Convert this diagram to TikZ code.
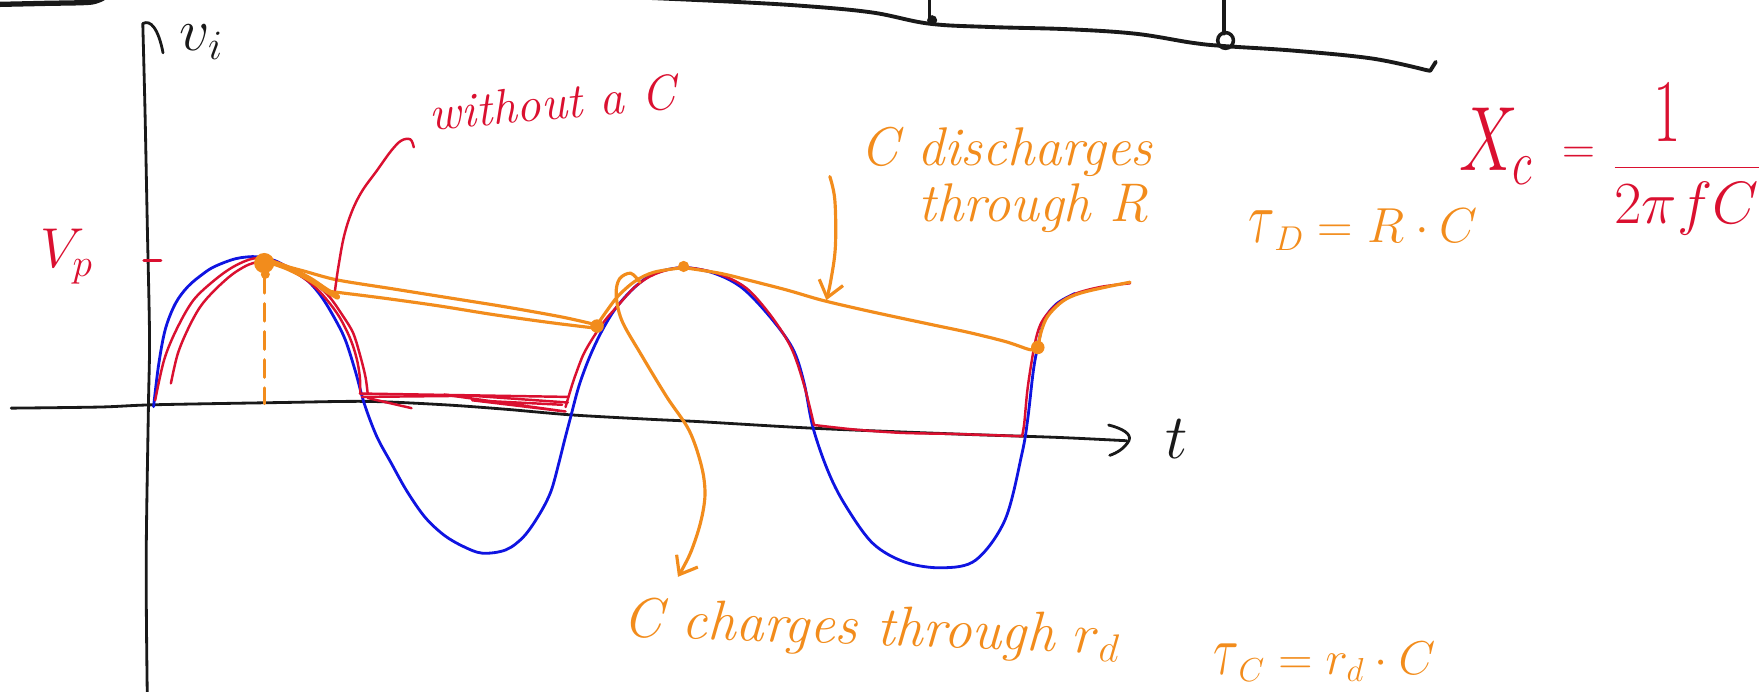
\RequirePackage{fix-cm}
\documentclass[tikz,border=0pt]{standalone}
\usepackage{graphicx}
\usetikzlibrary{arrows.meta}
\definecolor{pblue}{RGB}{15,20,225}
\definecolor{pred}{RGB}{218,16,48}
\definecolor{porange}{RGB}{242,140,28}
\definecolor{inkblack}{RGB}{25,25,25}
\newcommand{\hwsize}[1]{\fontsize{#1}{#1}\selectfont}
\newcommand{\talltau}[1]{\scalebox{1}[#1]{$\tau$}}
\begin{document}
\begin{tikzpicture}[x=0.022488cm,y=-0.022488cm,
  txt/.style={inner sep=0pt,outer sep=0pt,anchor=base west},
  bl/.style={pblue,line width=1.6pt,line cap=round,line join=round},
  rd/.style={pred,line width=1.4pt,line cap=round,line join=round},
  og/.style={porange,line width=1.8pt,line cap=round,line join=round},
  ax/.style={inkblack,line width=1.6pt,line cap=round,line join=round},
  barb/.style={-{Straight Barb[length=9pt,width=14pt,line width=1.8pt]}}]
\useasboundingbox (0,0) rectangle (1568,615);

% ---- top strokes (circuit fragment)
\draw[ax,line width=3pt] plot[smooth] coordinates {(-5,4) (40,3) (80,2) (92,-2)};
\draw[ax,line width=2.2pt] plot[smooth,tension=0.6] coordinates {(550,-3) (640,1) (711,5) (775,11) (826,21) (880,24) (950,26) (1010,30) (1060,38) (1089,41) (1150,45) (1220,52) (1267,62)} -- (1272,63) -- (1277,55);
\draw[ax,line width=2pt] (826.5,-2) -- (826.5,20);
\fill[inkblack] (829,18) circle (4.5);
\draw[ax,line width=2pt] (1088.5,-2) -- (1088.5,30);
\draw[ax,line width=2pt] (1090,36) circle (7);

% ---- axes
\draw[ax] plot[smooth,tension=0.5] coordinates {(131,620) (130,500) (132,362) (133,300) (131,200) (129,100) (127,21)}
  .. controls (134,17) and (141,26) .. (145,47);
\draw[ax] plot[smooth,tension=0.5] coordinates {(10,363) (89,362) (137,360) (250,358) (327,357) (395,360) (450,364) (508,369) (580,373) (622,375) (726,381) (850,386) (940,389) (1002,392)};
\draw[ax] (986,378) .. controls (998,381) and (1007,386) .. (1004,392) .. controls (1000,399) and (993,403) .. (987,405);
\node[txt,inkblack,font=\hwsize{34}] (vi) at (160,45) {$v_i$};
\node[txt,inkblack,font=\hwsize{36}] (t) at (1037,408) {$t$};

% ---- V_p
\draw[rd,line width=1.8pt] (128,232) -- (143,232);
\node[txt,pred,font=\hwsize{32}] (vp) at (36,238) {$V_p$};

% ---- blue input sine
\draw[bl] plot[smooth,tension=0.55] coordinates {
 (136.6,361.7) (141,325) (147,293) (156,270) (167,255) (180,244) (191,237) (210,230) (228.5,228.3)
 (245,232) (259,240) (274,250) (286,264) (297,282) (307,302) (316,330) (324,359) (335,388)
 (348,412) (362,437) (378,460) (395,476) (412,486) (429,492) (450,489) (466,477) (480,457)
 (490,437) (497,412) (502,392) (507.6,370.6) (515,343) (524.6,317) (536,293) (548.5,273)
 (565,255) (582.5,243) (608,238) (635,243) (660,256) (685,282) (705,310) (715,340) (723,380)
 (736,418) (751,448) (776,483) (805,500) (838,505) (868,498) (894,462) (909,403) (914,373)
 (919,330) (923,308) (929,284) (940,270) (956,261)};

% ---- red: half-wave rectified (without a C)
\draw[rd] plot[smooth,tension=0.55] coordinates {(138,356) (146,320) (157,293) (172,267) (191,249) (208,237) (225,230) (240,231)
 (262,240) (280,252) (293,264) (305,281) (314,296) (320,315) (325,335) (327,350)};
\draw[rd] plot[smooth,tension=0.55] coordinates {(152,341) (158,315) (167,293) (178,273) (191,258) (208,243) (225,234) (242,234)
 (265,244) (283,258) (300,279) (311,300) (317,318) (320,335) (320.4,350)};
\draw[rd] (320,350) -- (505,353);
\draw[rd] (322,353) -- (420,352) -- (505,358);
\draw[rd] (327,354) -- (366,363);
\draw[rd] (395,351) -- (503,366) -- (420,356) -- (500,360);
\draw[rd] plot[smooth,tension=0.55] coordinates {(503,362) (508,345) (512,333) (519,315) (528,299.5) (538,285) (548.5,273)
 (565,255) (582,244) (605,238) (630,241) (652,249) (668,260) (688,284) (704,310) (715,342) (724,378)};
\draw[rd] plot[smooth,tension=0.5] coordinates {(724,378) (760,382) (802,385) (850,386) (909,388)};
\draw[rd] plot[smooth,tension=0.55] coordinates {(909,388) (911,376) (914,345) (919.5,310) (924,292) (930,281) (941,270)
 (957,261) (980,255) (1005,252)};

% ---- orange: with capacitor
\draw[og,line width=3.2pt] plot[smooth] coordinates {(235,231) (255,238) (275,248) (290,258) (300,264)};
\draw[og] plot[smooth,tension=0.5] coordinates {(240,233) (270,241) (300,249) (350,257) (400,265) (450,273) (500,282) (531,289)};
\draw[og] plot[smooth,tension=0.5] coordinates {(292,259) (340,265) (390,272) (440,280) (490,287) (531,292)};
\draw[og] plot[smooth,tension=0.55] coordinates {(531,289) (540,276) (550,263) (565,250) (582,242) (608,238)};
\draw[og] plot[smooth,tension=0.5] coordinates {(608,238) (640,243) (665,249) (700,258) (731,267) (765,275) (797,282)
 (830,289) (863,296) (895,304) (916,311) (923,310)};
\draw[og] plot[smooth,tension=0.55] coordinates {(923,310) (926,295) (932,281) (945,268) (960,261) (985,255) (1005,251)};
\fill[porange] (235,234) circle (9);
\fill[porange] (236,244) circle (4);
\fill[porange] (531,290) circle (6);
\fill[porange] (608,237) circle (5);
\fill[porange] (923,309) circle (6);
\draw[og,dash pattern=on 10pt off 6pt] (235,245) -- (235,359);

% ---- annotations
\node[txt,pred,font=\hwsize{28}\itshape,rotate=5] (wo) at (383,116) {without a C};
\coordinate (woL) at (368,131);
\coordinate (redEnd) at (298,258);
\draw[rd] plot[smooth,tension=0.6] coordinates {(woL) (365,124) (357,125) (348,134) (335,152) (322,170) (313,188) (306,210) (301,237) (redEnd)};

\node[txt,porange,font=\hwsize{31}\itshape] (dis1) at (765,147) {C discharges};
\node[txt,porange,font=\hwsize{31}\itshape] (dis2) at (817,197) {through R};
\coordinate (disA) at (738,157);
\coordinate (disB) at (735,267);
\draw[og,barb] plot[smooth,tension=0.6] coordinates {(disA) (742.5,178) (743,219) (739,249) (disB)};

\node[txt,porange,font=\hwsize{28}] (tauD) at (1110,216) {\talltau{1.5}$_D = R\cdot C$};

\node[txt,pred,font=\hwsize{52}] (xc) at (1298,152) {\scalebox{0.72}[1]{$X_c$}};
\node[pred,font=\hwsize{26},inner sep=0pt] (xeq) at (1404,138) {$=$};
\node[pred,font=\hwsize{34},inner sep=0pt,anchor=base] (frac) at (1500,162) {$\displaystyle\frac{\scalebox{1}[1.5]{$1$}}{2\pi f C}$};

\node[txt,porange,font=\hwsize{32}\itshape,rotate=-2] (chg) at (554,566) {C charges through $r_d$};
\node[txt,porange,font=\hwsize{27}] (tauC) at (1079,600) {\talltau{1.5}$_C = r_d\cdot C$};
\coordinate (chA) at (569,251);
\coordinate (chB) at (603,513);
\draw[og,barb] plot[smooth,tension=0.55] coordinates {(chA) (561,243) (551,248) (548,262) (553,285) (570,315) (593,353) (613,383) (624,415) (627,440) (623,465) (614,492) (chB)};
\end{tikzpicture}
\end{document}
